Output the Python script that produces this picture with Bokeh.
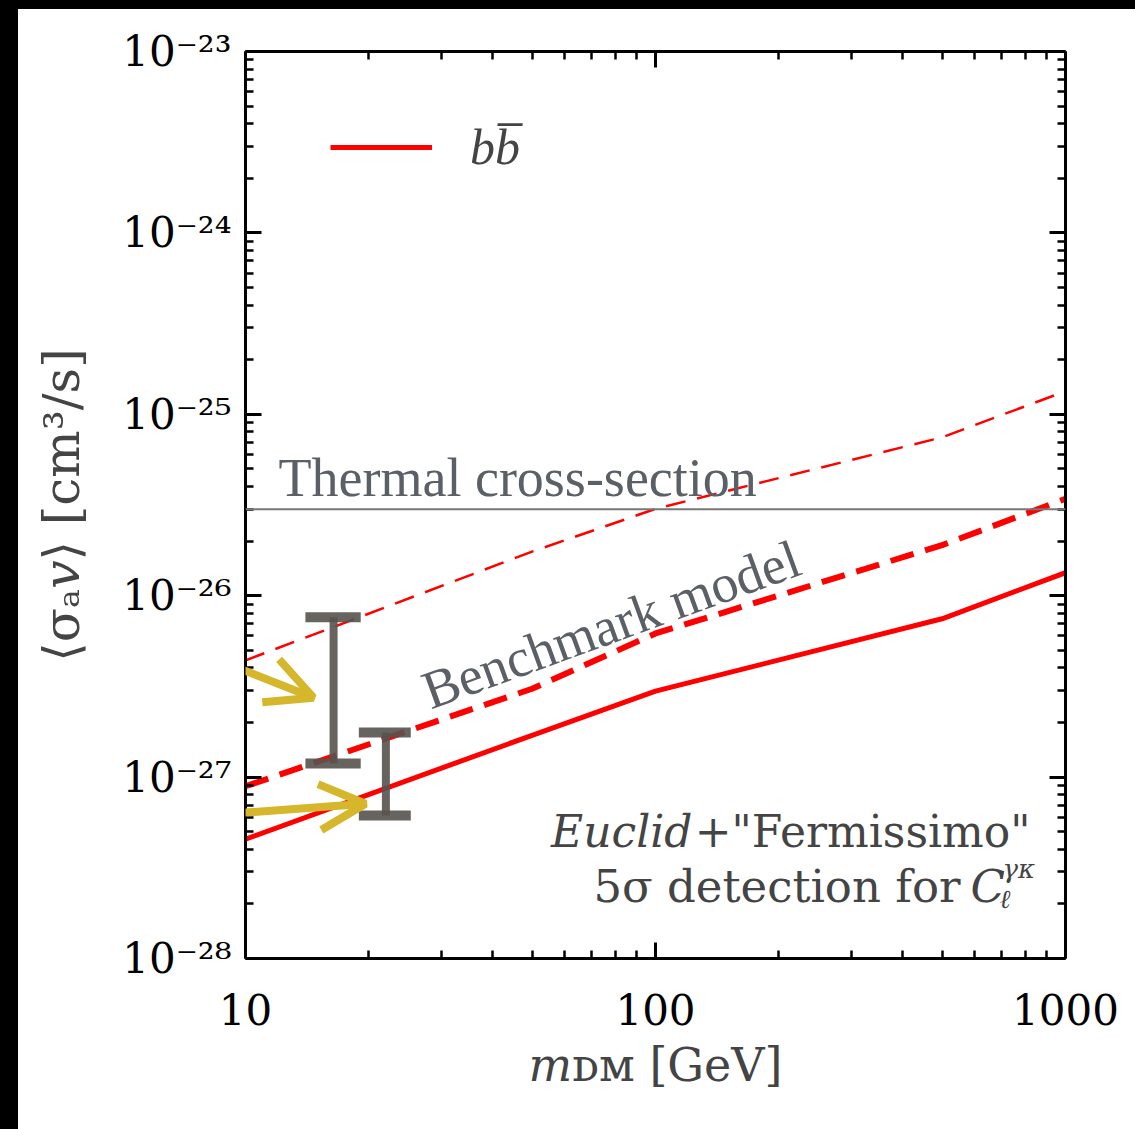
import numpy as np
from bokeh.plotting import figure
from bokeh.models import (FixedTicker, Span, Label, Legend, LegendItem, Arrow,
                          OpenHead, LogAxis, InlineStyleSheet)
from bokeh.embed import file_html
from bokeh.resources import INLINE

# ---------------- data ----------------
m_solid = [10, 50, 100, 500, 1000]
sigma_solid = [4.55e-28, 1.70e-27, 2.98e-27, 7.46e-27, 1.34e-26]

m_bench = [10, 50, 100, 500, 1000]
sigma_bench = [8.9e-28, 3.07e-27, 6.19e-27, 1.90e-26, 3.42e-26]

m_thin = [10, 50, 100, 500, 1000]
sigma_thin = [4.40e-27, 1.75e-26, 3.01e-26, 7.47e-26, 1.34e-25]

thermal_xsec = 3.0e-26

# hand-drawn range bars (x, y_low, y_high, cap_left, cap_right)
bar_x = [16.4, 22.0]
bar_lo = [1.19e-27, 6.15e-28]
bar_hi = [7.6e-27, 1.76e-27]
cap_l = [14.0, 18.9]
cap_r = [19.1, 25.3]

# hand-drawn arrows (start -> tip)
arr_x0 = [2.5, 2.5]
arr_y0 = [1.32e-26, 5.07e-28]
arr_x1 = [14.65, 19.62]
arr_y1 = [2.74e-27, 7.13e-28]

# ticks
x_major = [10, 100, 1000]
x_minor = [20, 30, 40, 50, 60, 70, 80, 90, 200, 300, 400, 500, 600, 700, 800, 900]
x_labels = ["10", "100", "1000"]
y_major = [1e-28, 1e-27, 1e-26, 1e-25, 1e-24, 1e-23]
y_minor = [k * d for d in [1e-28, 1e-27, 1e-26, 1e-25, 1e-24] for k in range(2, 10)]
y_labels = ["10⁻²⁸", "10⁻²⁷", "10⁻²⁶", "10⁻²⁵", "10⁻²⁴", "10⁻²³"]

# ---------------- layout helpers (reference pixel -> data) ----------------
def rx(px):
    return 10 ** (1 + (px - 245) / 410.0)

def ry(py):
    return 10 ** (-23 - (py - 50.7) / 181.46)

SERIF = "DejaVu Serif"
GRAY_TXT = "#5b6067"
RED = "#ff0000"
YEL = "#d6b62a"
BARC = "#57534f"

p = figure(width=1135, height=1129, x_axis_type="log", y_axis_type="log",
           x_range=(10, 1000), y_range=(1e-28, 1e-23),
           output_backend="svg", toolbar_location=None,
           min_border_left=245, min_border_right=70,
           min_border_top=51, min_border_bottom=171)
p.grid.visible = False
p.outline_line_color = None
p.background_fill_color = "white"
p.border_fill_alpha = 0
# slide edge: black strip on the left and on top
p.stylesheets = [InlineStyleSheet(
    css=":host { background-color: white; box-shadow: inset 18px 9px 0 0 black; }")]

# extra axes
p.add_layout(LogAxis(), "right")
p.add_layout(LogAxis(), "above")

for ax in p.xaxis:
    ax.ticker = FixedTicker(ticks=x_major, minor_ticks=x_minor)
for ax in p.yaxis:
    ax.ticker = FixedTicker(ticks=y_major, minor_ticks=y_minor)

for ax in p.axis:
    ax.axis_line_width = 3
    ax.axis_line_color = "black"
    ax.major_tick_in = 16
    ax.major_tick_out = 0
    ax.minor_tick_in = 8
    ax.minor_tick_out = 0
    ax.major_tick_line_width = 3
    ax.minor_tick_line_width = 2.5
    ax.major_label_text_font = SERIF
    ax.major_label_text_font_size = "42px"
    ax.major_label_text_color = "black"

bx = p.below[0]
bx.major_label_overrides = dict(zip(x_major, x_labels))
bx.major_label_standoff = 35
bx.axis_label = "𝑚ᴅᴍ [GeV]"
bx.axis_label_text_font = SERIF
bx.axis_label_text_font_style = "normal"
bx.axis_label_text_font_size = "46px"
bx.axis_label_standoff = 10

ly = p.left[0]
ly.major_label_overrides = dict(zip(y_major, y_labels))
ly.major_label_standoff = 14
ly.axis_label = "⟨σₐ𝑣⟩ [cm³/s]"
ly.axis_label_text_font = SERIF
ly.axis_label_text_font_style = "normal"
ly.axis_label_text_font_size = "50px"
ly.axis_label_standoff = 28

p.above[0].major_label_overrides = {t: "" for t in x_major}
p.right[0].major_label_overrides = {t: "" for t in y_major}

# ---------------- curves ----------------
solid = p.line(m_solid, sigma_solid, line_color=RED, line_width=5)
p.line(m_bench, sigma_bench, line_color=RED, line_width=6, line_dash="24 12")
p.line(m_thin, sigma_thin, line_color=RED, line_width=2.5, line_dash="20 12")
p.add_layout(Span(location=thermal_xsec, dimension="width", line_color="#777777",
                  line_width=2))

# range bars
p.segment(bar_x, bar_lo, bar_x, bar_hi, line_color=BARC, line_width=8, line_alpha=0.9)
p.segment(cap_l, bar_hi, cap_r, bar_hi, line_color=BARC, line_width=10, line_alpha=0.9)
p.segment(cap_l, bar_lo, cap_r, bar_lo, line_color=BARC, line_width=10, line_alpha=0.9)

# legend
leg = Legend(items=[LegendItem(label="bb\u0305", renderers=[solid])],
             location=(85, 782), orientation="vertical",
             label_text_font="Liberation Serif", label_text_font_style="italic",
             label_text_font_size="50px", glyph_width=102, glyph_height=50,
             label_height=50, label_standoff=38, padding=0, margin=0,
             border_line_color=None, background_fill_alpha=0)
p.add_layout(leg)

# gray annotations
p.add_layout(Label(x=rx(278), y=ry(477), text="Thermal cross-section",
                   text_font="Liberation Serif", text_font_size="54px",
                   text_color=GRAY_TXT, text_baseline="alphabetic"))
p.add_layout(Label(x=rx(424), y=ry(692), text="Benchmark model",
                   text_font="Liberation Serif", text_font_size="54px",
                   text_color=GRAY_TXT, text_baseline="alphabetic",
                   angle=20, angle_units="deg"))

# detection text
p.add_layout(Label(x=rx(1030), y=ry(831), text="+\"Fermissimo\"", text_font=SERIF,
                   text_font_size="44px", text_align="right", text_baseline="alphabetic"))
p.add_layout(Label(x=rx(692), y=ry(831), text="Euclid", text_font=SERIF,
                   text_font_style="italic", text_font_size="44px",
                   text_align="right", text_baseline="alphabetic"))
p.add_layout(Label(x=rx(960), y=ry(886), text="5σ detection for", text_font=SERIF,
                   text_font_size="45px", text_align="right", text_baseline="alphabetic"))
p.add_layout(Label(x=rx(970), y=ry(886), text="C", text_font=SERIF,
                   text_font_style="italic", text_font_size="45px",
                   text_align="left", text_baseline="alphabetic"))
p.add_layout(Label(x=rx(1002), y=ry(868), text="γκ", text_font=SERIF,
                   text_font_style="italic", text_font_size="26px",
                   text_align="left", text_baseline="alphabetic"))
p.add_layout(Label(x=rx(999), y=ry(898), text="ℓ", text_font=SERIF,
                   text_font_style="italic", text_font_size="26px",
                   text_align="left", text_baseline="alphabetic"))

# arrows
for i in range(len(arr_x0)):
    p.add_layout(Arrow(x_start=arr_x0[i], y_start=arr_y0[i],
                       x_end=arr_x1[i], y_end=arr_y1[i],
                       line_color=YEL, line_width=8,
                       end=OpenHead(size=46, line_color=YEL, line_width=8)))

open("out.html", "w").write(file_html(p, INLINE))
